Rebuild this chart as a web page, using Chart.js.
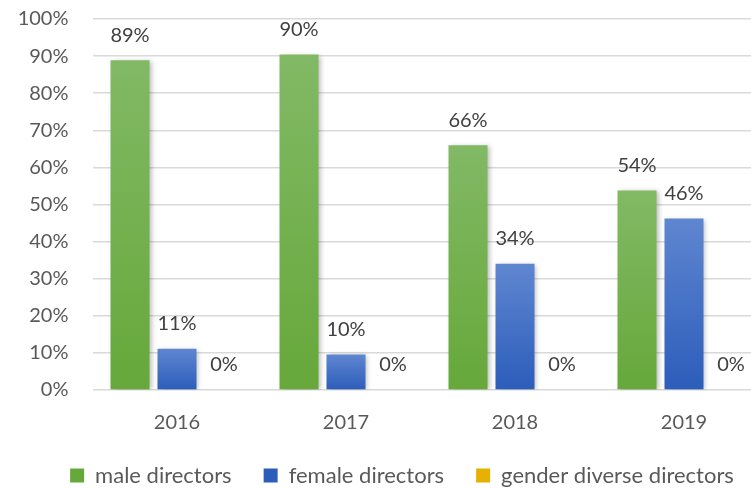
<!DOCTYPE html>
<html>
<head>
<meta charset="utf-8">
<script src="https://cdn.jsdelivr.net/npm/chart.js@4/dist/chart.umd.min.js"></script>
<style>
  html, body { margin: 0; padding: 0; background: #ffffff; overflow: hidden; }
  #wrap { width: 804px; height: 488px; }
</style>
</head>
<body>
<div id="wrap"><canvas id="c" width="804" height="488"></canvas></div>
<script>
const categories = ['2016', '2017', '2018', '2019'];
const maleDirectors = [88.9, 90.4, 66.0, 53.8];
const femaleDirectors = [11.1, 9.6, 34.0, 46.2];
const genderDiverseDirectors = [0, 0, 0, 0];
const seriesNames = ['male directors', 'female directors', 'gender diverse directors'];
const yTicks = [0, 10, 20, 30, 40, 50, 60, 70, 80, 90, 100];

const FONT = 'Lato, "Open Sans", sans-serif';

function gradientFill(top, mid, bottom) {
  return function (c) {
    const chart = c.chart;
    const ys = chart.scales && chart.scales.y;
    if (c.type !== 'data' || !ys || c.raw == null) return mid;
    const yTop = ys.getPixelForValue(c.raw);
    const yBot = ys.getPixelForValue(0);
    if (!isFinite(yTop) || !isFinite(yBot) || Math.abs(yBot - yTop) < 1) return bottom;
    const g = chart.ctx.createLinearGradient(0, yTop, 0, yBot);
    g.addColorStop(0, top);
    g.addColorStop(1, bottom);
    return g;
  };
}

const shadowPlugin = {
  id: 'barShadow',
  beforeDatasetsDraw(chart) {
    const ctx = chart.ctx;
    ctx.save();
    ctx.shadowColor = 'rgba(0,0,0,0.28)';
    ctx.shadowBlur = 5;
    ctx.shadowOffsetX = 2;
    ctx.shadowOffsetY = 1;
  },
  afterDatasetsDraw(chart) {
    chart.ctx.restore();
  }
};

const labelPlugin = {
  id: 'valueLabels',
  afterDatasetsDraw(chart) {
    const ctx = chart.ctx;
    ctx.save();
    ctx.font = '20px ' + FONT;
    ctx.fillStyle = '#404040';
    ctx.textAlign = 'center';
    ctx.textBaseline = 'middle';
    chart.data.datasets.forEach((ds, di) => {
      const meta = chart.getDatasetMeta(di);
      meta.data.forEach((bar, i) => {
        const v = ds.data[i];
        ctx.fillText(Math.round(v) + '%', bar.x, bar.y - 25);
      });
    });
    ctx.restore();
  }
};

new Chart(document.getElementById('c'), {
  type: 'bar',
  data: {
    labels: categories,
    datasets: [
      { label: seriesNames[0], data: maleDirectors, backgroundColor: gradientFill('#82b965', '#72ae4c', '#66a83a') },
      { label: seriesNames[1], data: femaleDirectors, backgroundColor: gradientFill('#5f86d0', '#4672c6', '#2c5dbb') },
      { label: seriesNames[2], data: genderDiverseDirectors, backgroundColor: gradientFill('#ffcb3a', '#fcbf1a', '#e6b000') }
    ]
  },
  options: {
    responsive: false,
    animation: false,
    devicePixelRatio: 1,
    layout: { padding: { left: 0, right: 0, top: 19, bottom: -8.5 } },
    datasets: {
      bar: { barPercentage: 0.83, categoryPercentage: 0.834 }
    },
    scales: {
      x: {
        grid: { display: false },
        border: { display: false },
        ticks: { color: '#595959', font: { family: FONT, size: 20 }, padding: 12.5 },
        afterFit(s) { s.height = 42.5; }
      },
      y: {
        min: 0,
        max: 100,
        afterBuildTicks(s) { s.ticks = yTicks.map(v => ({ value: v })); },
        afterFit(s) { s.width = 92.5; },
        grid: { color: '#d9d9d9', lineWidth: 1.5, drawTicks: true, tickLength: 24, tickColor: 'rgba(0,0,0,0)' },
        border: { display: false },
        ticks: {
          color: '#595959',
          font: { family: FONT, size: 20 },
          padding: 0,
          callback: v => v + '%'
        }
      },
      yRightSpace: {
        type: 'linear',
        position: 'right',
        display: true,
        grid: { display: false },
        border: { display: false },
        ticks: { display: false },
        afterFit(s) { s.width = 35.5; }
      }
    },
    plugins: {
      legend: {
        position: 'bottom',
        labels: {
          color: '#595959',
          font: { family: FONT, size: 22 },
          boxWidth: 14,
          boxHeight: 14,
          padding: 32
        }
      },
      tooltip: { enabled: false }
    }
  },
  plugins: [shadowPlugin, labelPlugin]
});
</script>
</body>
</html>
